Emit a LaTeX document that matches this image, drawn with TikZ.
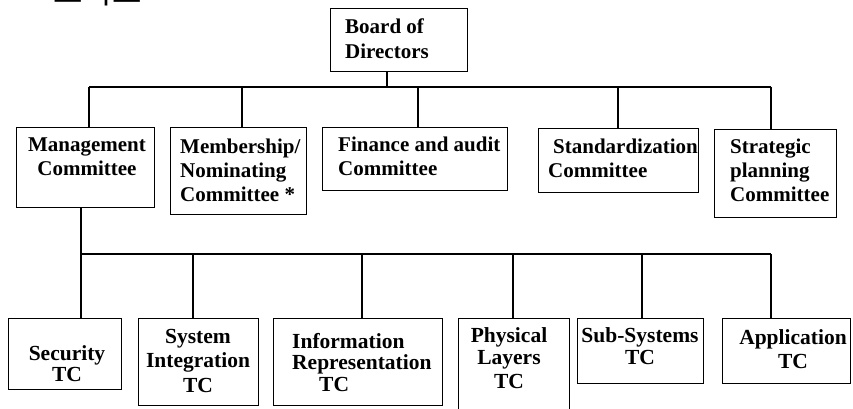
\documentclass[tikz,border=0pt]{standalone}
\usepackage{fontspec}
\setmainfont{Liberation Serif}
\newfontfamily\kofont{Noto Sans CJK KR}
\usepackage{tikz}
\usetikzlibrary{calc}

\tikzset{
  unit/.style={draw, line width=1pt, inner sep=0pt, anchor=north west},
  headtext/.style={inner sep=0pt, align=left, font=\fontsize{21}{24}\selectfont\bfseries},
  tctext/.style={inner sep=0pt, align=center, font=\fontsize{21.5}{24}\selectfont\bfseries},
  link/.style={line width=1.2pt}
}

\begin{document}
\begin{tikzpicture}[x=1pt,y=-1pt]
    \useasboundingbox (0,0) rectangle (853,409);
    % title, cut off by the page edge
    \node[inner sep=0pt, anchor=base west, font=\kofont\fontsize{32}{32}\selectfont] (title) at (53,4) {조직도};
    % boxes
    \node[unit, minimum width=137, minimum height=63] (board) at (330,8) {};
    \node[unit, minimum width=138, minimum height=80] (mgmt) at (16,127) {};
    \node[unit, minimum width=136, minimum height=87] (memb) at (170,127) {};
    \node[unit, minimum width=185, minimum height=63] (fin) at (322,127) {};
    \node[unit, minimum width=160, minimum height=64] (std) at (538,128) {};
    \node[unit, minimum width=122, minimum height=88] (strat) at (714,129) {};
    \node[unit, minimum width=113, minimum height=71] (sec) at (8,318) {};
    \node[unit, minimum width=120, minimum height=87] (sys) at (138,318) {};
    \node[unit, minimum width=169, minimum height=87] (inf) at (273,318) {};
    \node[unit, minimum width=111, minimum height=110] (phy) at (458,318) {};
    \node[unit, minimum width=126, minimum height=65] (sub) at (577,318) {};
    \node[unit, minimum width=128, minimum height=65] (app) at (722,318) {};
    % texts
    \node[headtext, anchor=north west] (board-t) at (345,19) {Board of\\[1pt]Directors};
    \node[headtext, anchor=north, align=center] (mgmt-t) at (87,138) {Management\\Committee};
    \node[headtext, anchor=north west] (memb-t) at (180,139) {Membership/\\Nominating\\Committee *};
    \node[headtext, anchor=north west] (fin-t) at (338,137) {Finance and audit\\Committee};
    \node[headtext, anchor=north west] (std-t) at (548,139) {\hspace{5pt}Standardization\\Committee};
    \node[headtext, anchor=north west] (strat-t) at (730,139) {Strategic\\planning\\Committee};
    \node[tctext, anchor=north] (sec-t) at (67,345) {Security\\[-3pt]TC};
    \node[tctext, anchor=north] (sys-t) at (198,329) {System\\Integration\\[1pt]TC};
    \node[tctext, anchor=north west, align=left] (inf-t) at (292,333) {Information\\[-3pt]Representation\\[-2pt]\hspace{27pt}TC};
    \node[tctext, anchor=north] (phy-t) at (509,327) {Physical\\[-2pt]Layers\\TC};
    \node[tctext, anchor=north] (sub-t) at (640,327) {Sub-Systems\\[-2pt]TC};
    \node[tctext, anchor=north] (app-t) at (793,329) {Application\\TC};
    % upper bus
    \coordinate (top) at (387,87);
    \coordinate (a1) at (89,87);
    \coordinate (a2) at (242,87);
    \coordinate (a3) at (418,87);
    \coordinate (a4) at (618,87);
    \coordinate (a5) at (771,87);
    \draw[link] (top |- board.south) -- (top);
    \draw[link] (a1) -- (a5);
    \draw[link] (a1) -- (a1 |- mgmt.north);
    \draw[link] (a2) -- (a2 |- memb.north);
    \draw[link] (a3) -- (a3 |- fin.north);
    \draw[link] (a4) -- (a4 |- std.north);
    \draw[link] (a5) -- (a5 |- strat.north);
    % lower bus
    \coordinate (b0) at (81,254);
    \draw[link] (b0 |- mgmt.south) -- (b0);
    \draw[link] (b0) -- (771,254) coordinate (b6);
    \foreach \n/\x in {sec/81, sys/193, inf/362, phy/513, sub/642, app/771}
      \draw[link] (\x,254) coordinate (b-\n) -- (b-\n |- \n.north);
\end{tikzpicture}
\end{document}
